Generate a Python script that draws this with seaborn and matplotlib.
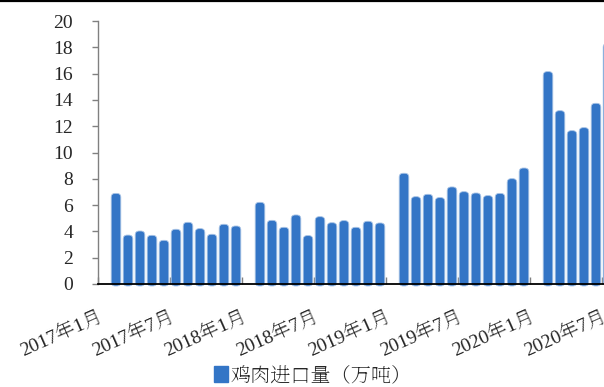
import numpy as np
import pandas as pd
import matplotlib
matplotlib.use("Agg")
import matplotlib.pyplot as plt
import seaborn as sns
from matplotlib.patches import FancyBboxPatch, Patch
from matplotlib.lines import Line2D

# --- DATA (Jan figures are merged into Feb, so January is missing) ---
months_2017 = ["2017-02", "2017-03", "2017-04", "2017-05", "2017-06", "2017-07",
               "2017-08", "2017-09", "2017-10", "2017-11", "2017-12"]
values_2017 = [6.89, 3.72, 4.03, 3.70, 3.32, 4.16, 4.69, 4.21, 3.78, 4.54, 4.41]
months_2018 = ["2018-02", "2018-03", "2018-04", "2018-05", "2018-06", "2018-07",
               "2018-08", "2018-09", "2018-10", "2018-11", "2018-12"]
values_2018 = [6.21, 4.84, 4.31, 5.25, 3.68, 5.12, 4.66, 4.82, 4.31, 4.77, 4.64]
months_2019 = ["2019-02", "2019-03", "2019-04", "2019-05", "2019-06", "2019-07",
               "2019-08", "2019-09", "2019-10", "2019-11", "2019-12"]
values_2019 = [8.42, 6.64, 6.82, 6.57, 7.38, 7.02, 6.92, 6.72, 6.89, 8.01, 8.82]
months_2020 = ["2020-02", "2020-03", "2020-04", "2020-05", "2020-06", "2020-07"]
values_2020 = [16.15, 13.18, 11.66, 11.89, 13.74, 18.3]

tick_labels = ["2017年1月", "2017年7月", "2018年1月", "2018年7月",
               "2019年1月", "2019年7月", "2020年1月", "2020年7月"]
series_name = "鸡肉进口量（万吨）"

df = pd.DataFrame({
    "month": months_2017 + months_2018 + months_2019 + months_2020,
    "value": values_2017 + values_2018 + values_2019 + values_2020,
})
dt = pd.to_datetime(df["month"])
df["pos"] = (dt.dt.year - 2017) * 12 + (dt.dt.month - 1) + 0.5

color = "#3375C6"

sns.set_style("white")
plt.rcParams["font.family"] = ["Liberation Serif", "Noto Serif SC"]

fig = plt.figure(figsize=(6.04, 3.87), dpi=100)
ax = fig.add_axes([98 / 604, 103 / 387, 516 / 604, 263 / 387])

sns.barplot(data=df, x="pos", y="value", native_scale=True, color=color,
            width=0.8, ax=ax, saturation=1)

# swap plain bars for rounded ones
bars = list(ax.patches)
for p in bars:
    x, w, h = p.get_x(), p.get_width(), p.get_height()
    p.remove()
    fb = FancyBboxPatch((x, -0.15), w, h + 0.15,
                        boxstyle="round,pad=0,rounding_size=0.33",
                        mutation_aspect=0.91, facecolor=color,
                        edgecolor="#a9c4e6", linewidth=0.6, clip_on=False,
                        zorder=2)
    ax.add_patch(fb)

ax.set_xlim(0, 43)
ax.set_ylim(0, 20)
ax.set_yticks(range(0, 21, 2))
ax.set_xticks(range(0, 43, 6))
ax.set_xticklabels(tick_labels, rotation=24, ha="right", va="top",
                   rotation_mode="anchor")
ax.set_xlabel("")
ax.set_ylabel("")

for s in ["top", "right"]:
    ax.spines[s].set_visible(False)
ax.spines["left"].set_color("#808080")
ax.spines["left"].set_linewidth(1.0)
ax.spines["bottom"].set_color("black")
ax.spines["bottom"].set_linewidth(1.3)
ax.spines["bottom"].set_zorder(3)

ax.tick_params(axis="y", direction="out", length=4, width=1, color="#808080",
               labelsize=14, pad=14, left=True)
ax.tick_params(axis="x", direction="in", length=5, width=1, color="#808080",
               labelsize=14, pad=17, bottom=True)

fig.legend(handles=[Patch(facecolor=color, edgecolor=color, label=series_name)],
           loc="center", bbox_to_anchor=(313 / 604, 1 - 376 / 387),
           frameon=False, fontsize=14.5, handlelength=0.7, handleheight=0.8,
           handletextpad=0.15)

fig.add_artist(Line2D([0, 1], [1 - 1 / 387, 1 - 1 / 387], color="black",
                      linewidth=1.6, transform=fig.transFigure))

fig.savefig("out.png", dpi=100)
